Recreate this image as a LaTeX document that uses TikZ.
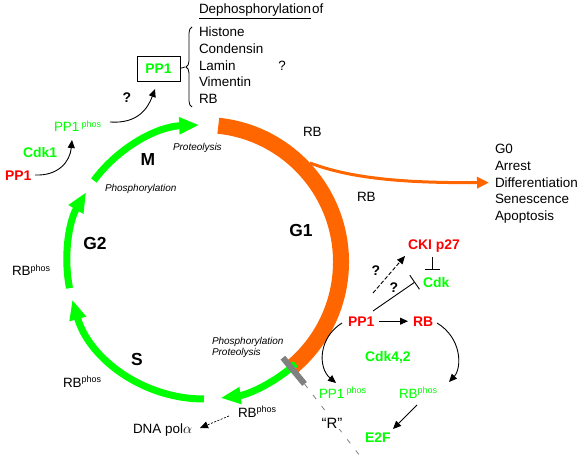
\documentclass[tikz,border=0pt]{standalone}
\usepackage{fontspec}
\setmainfont{Liberation Sans}
\usetikzlibrary{arrows.meta,decorations.pathreplacing}
\definecolor{gr}{RGB}{0,255,0}
\definecolor{rd}{RGB}{255,0,0}
\definecolor{org}{RGB}{255,102,0}
\definecolor{gry}{RGB}{128,128,128}
\newcommand\myphos{\raisebox{4.5bp}{\fontsize{9}{9}\selectfont phos}}
\begin{document}
\begin{tikzpicture}[x=1bp,y=-1bp,
  every node/.style={inner sep=0pt, outer sep=0pt},
  txt/.style={font=\fontsize{13.5}{16}\selectfont, anchor=base west},
  bld/.style={font=\bfseries\fontsize{14}{16}\selectfont, anchor=base west},
  phase/.style={font=\bfseries\fontsize{17.5}{18}\selectfont, anchor=center},
  itl/.style={font=\itshape\fontsize{10}{12}\selectfont, anchor=base west},
  qm/.style={font=\bfseries\fontsize{14}{16}\selectfont, anchor=center},
  arcgreen/.style={draw=gr, line width=7bp, -{Triangle[length=20bp,width=16bp]}},
  blk/.style={draw=black, line width=0.9bp, -{Triangle[length=8bp,width=7bp]}},
  inh/.style={draw=black, line width=0.9bp, -{Bar[width=16bp]}},
]
\useasboundingbox (0,0) rectangle (588,465);
\fill[white] (0,0) rectangle (588,465);

\coordinate (C) at (204,262);
% G1 orange arc
\draw[org, line width=16bp] (C) ++(-84:137) arc[start angle=-84, end angle=50.5, radius=137];
% green arcs
\draw[arcgreen] (C) ++(48:137) arc[start angle=48, end angle=83, radius=137];
\draw[arcgreen] (C) ++(90:137) arc[start angle=90, end angle=164, radius=137];
\draw[arcgreen] (C) ++(169:137) arc[start angle=169, end angle=210.6, radius=137];
\draw[arcgreen] (C) ++(-143.5:137) arc[start angle=-143.5, end angle=-92, radius=137];
% restriction point tick
\draw[gry, line width=6bp] (C) ++(50.5:124) -- ++(50.5:34);
\path (C) ++(50.5:158) coordinate (rA);
\path (C) ++(51.2:252) coordinate (rB);
\draw[gry, line width=0.8bp, dash pattern=on 5bp off 9bp] (rA) -- (rB);
\node[font=\fontsize{15}{16}\selectfont, fill=white, inner sep=1bp] (R) at (332,423) {“R”};

% phase labels
\node[phase] (M) at (148,160) {M};
\node[phase] (G2) at (95,243) {G2};
\node[phase] (S) at (137,359) {S};
\node[phase] (G1) at (301,230) {G1};

% italic labels
\node[itl] (prot1) at (173,151) {Proteolysis};
\node[itl] (phos1) at (105,191.5) {Phosphorylation};
\node[itl] (phos2) at (212,344.5) {Phosphorylation};
\node[itl] (prot2) at (212,355.5) {Proteolysis};

% top: dephosphorylation
\node[txt] (deph) at (199,14) {\underline{Dephosphorylation}\kern1bp of};
\node[txt] (his) at (199,37) {Histone};
\node[txt] (con) at (199,53.7) {Condensin};
\node[txt] (lam) at (199,70.4) {Lamin};
\node[txt] (vim) at (199,87) {Vimentin};
\node[txt] (rbl) at (199,103.7) {RB};
\node[txt, anchor=base] (q0) at (282,71) {?};
\draw[decorate, decoration={brace, amplitude=6bp}, line width=0.8bp] (192,107) -- (192,27);
\coordinate (bt) at (185,67);
\node[draw, line width=0.8bp, minimum width=43bp, minimum height=25bp,
      font=\bfseries\fontsize{14}{16}\selectfont, text=gr] (ppbox) at (158.5,68.5) {PP1};
\draw[line width=0.8bp] (ppbox.east) -- (bt);

% top-left
\node[txt, text=gr] (pp1p) at (54,132) {PP1\,\myphos};
\node[bld, text=gr] (cdk1) at (23,158) {Cdk1};
\node[bld, text=rd] (pp1r) at (5,181) {PP1};
\node[qm] (q1) at (127,98) {?};
\coordinate (qa) at (110,122);
\coordinate (qb) at (155,89);
\draw[blk] (qa) .. controls (138,124) and (148,108) .. (qb);
\coordinate (pa) at (35,175);
\coordinate (pb) at (72,140);
\draw[blk] (pa) .. controls (58,176) and (70,162) .. (pb);

% orange branch to G0
\node[txt] (rb1) at (303,137) {RB};
\node[txt] (rb2) at (357,202) {RB};
\node[txt] (g0) at (495,154) {G0};
\node[txt] (arr) at (495,170.7) {Arrest};
\node[txt] (dif) at (495,187.4) {Differentiation};
\node[txt] (sen) at (495,204) {Senescence};
\node[txt] (apo) at (495,220.7) {Apoptosis};
\coordinate (oA) at (310,163);
\draw[org, line width=3bp, -{Triangle[length=12bp,width=11bp]}, shorten >=6bp]
  (oA) .. controls (350,178) and (400,183) .. (dif.west);

% left RBphos labels
\node[txt] (rbp1) at (12,276) {RB\myphos};
\node[txt] (rbp2) at (63,387) {RB\myphos};
\node[txt] (rbp3) at (238,417) {RB\myphos};
\node[txt] (dna) at (133,433.5) {DNA pol$\alpha$};
\coordinate (da) at (229,416);
\coordinate (db) at (200,428);
\draw[blk, line width=0.7bp, dash pattern=on 2bp off 1.5bp] (da) -- (db);

% right cluster
\node[bld, text=rd] (cki) at (408,250) {CKI p27};
\node[bld, text=gr] (cdk) at (423,288) {Cdk};
\coordinate (ka) at (432,257);
\coordinate (kb) at (432,270);
\draw[inh, -{Bar[width=15bp]}] (ka) -- (kb);
\coordinate (da1) at (373,293);
\coordinate (db1) at (405,256);
\draw[blk, dash pattern=on 4bp off 2bp] (da1) -- (db1);
\node[qm] (q2) at (376,271) {?};
\node[qm] (q3) at (394,288) {?};
\coordinate (ia) at (373,311);
\coordinate (ib) at (415,282);
\draw[inh, -{Bar[width=17bp]}] (ia) -- (ib);
\node[bld, text=rd] (pp1b) at (348,326) {PP1};
\node[bld, text=rd] (rbr) at (413,326) {RB};
\draw[blk, shorten <=5bp, shorten >=5bp] (pp1b.east) -- (rbr.west);
\node[bld, text=gr] (cdk42) at (365,361) {Cdk4,2};
\node[txt, text=gr] (pp1p2) at (319,398) {PP1\,\myphos};
\node[txt, text=gr] (rbp4) at (399,398) {RB\myphos};
\node[bld, text=gr] (e2f) at (365,442) {E2F};
\coordinate (la) at (342,323);
\coordinate (lb) at (336,383);
\draw[blk] (la) .. controls (318,338) and (318,368) .. (lb);
\coordinate (ra) at (437,323);
\coordinate (rb) at (449,382);
\draw[blk] (ra) .. controls (462,338) and (462,368) .. (rb);
\coordinate (ea) at (417,405);
\coordinate (eb) at (393,429);
\draw[blk] (ea) -- (eb);
\end{tikzpicture}
\end{document}
